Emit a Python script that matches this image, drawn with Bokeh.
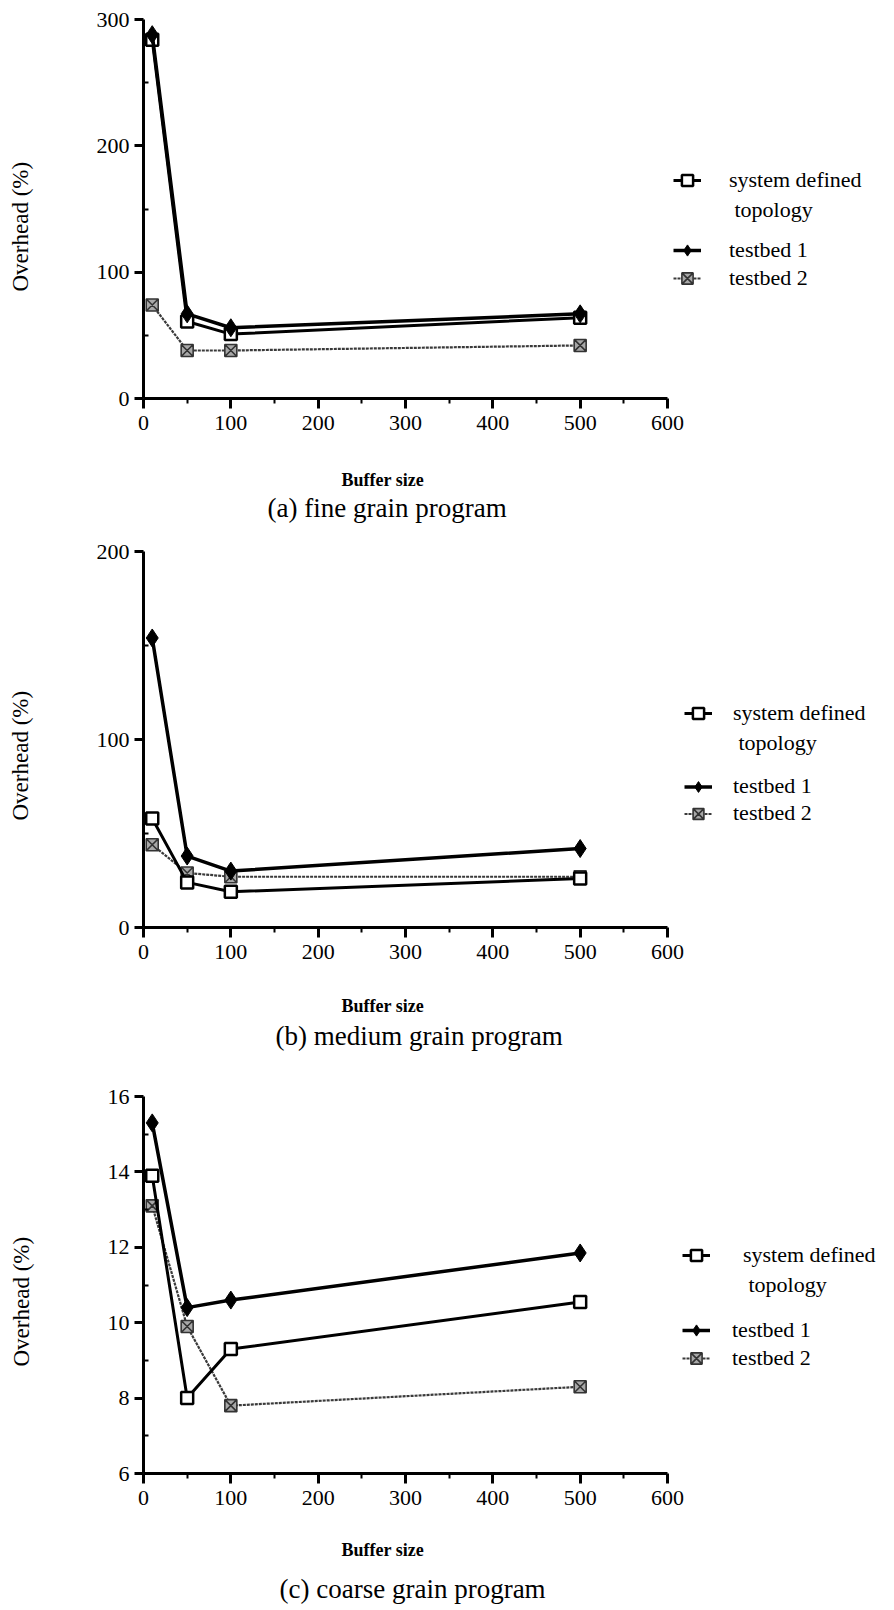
from bokeh.plotting import figure
from bokeh.models import Range1d, FixedTicker, Legend, LegendItem, LinearAxis, Title
from bokeh.layouts import column
from bokeh.embed import file_html
from bokeh.resources import INLINE

# ---------------- data ----------------
buffer_sizes = [10, 50, 100, 500]

fine_system = [284, 61, 51, 64]
fine_tb1 = [288, 67, 56, 67]
fine_tb2 = [74, 38, 38, 42]

medium_system = [58, 24, 19, 26]
medium_tb1 = [154, 38, 30, 42]
medium_tb2 = [44, 29, 27, 27]

coarse_system = [13.9, 8.0, 9.3, 10.55]
coarse_tb1 = [15.3, 10.4, 10.6, 11.85]
coarse_tb2 = [13.1, 9.9, 7.8, 8.3]

x_ticks = [0, 100, 200, 300, 400, 500, 600]
x_minor = [50, 150, 250, 350, 450, 550]

fine_yticks = [0, 100, 200, 300]
fine_yminor = [50, 150, 250]
medium_yticks = [0, 100, 200]
medium_yminor = [50, 150]
coarse_yticks = [6, 8, 10, 12, 14, 16]
coarse_yminor = [7, 9, 11, 13, 15]

captions = ["(a) fine grain program", "(b) medium grain program", "(c) coarse grain program"]
x_title = "Buffer size"
y_title = "Overhead (%)"
series_names = ["system defined", " topology", "testbed 1", "testbed 2"]

FONT = "Liberation Serif"
FRAME_L = 143          # page x of the y axis
PX_PER_600 = 524.0     # pixels spanned by 0..600 on the x axis
FRAME_W = 737


def spacer_axis(p, side, size, at):
    # an empty axis used only to reserve space between the axis and its titles
    ax = LinearAxis(ticker=FixedTicker(ticks=[at]), major_label_overrides={at: ""})
    ax.axis_line_color = None
    ax.major_tick_out = size
    ax.major_tick_in = 0
    ax.minor_tick_out = 0
    ax.minor_tick_in = 0
    ax.major_tick_line_color = "white"
    ax.major_tick_line_width = 1
    ax.major_label_standoff = 0
    ax.major_label_text_font_size = "1px"
    p.add_layout(ax, side)


def make_panel(system, tb1, tb2, yticks, yminor, caption, lay):
    y0, y1 = yticks[0], yticks[-1]
    x_end = 600.0 * FRAME_W / PX_PER_600
    fb = lay["frame_bottom"]
    p = figure(frame_width=FRAME_W, frame_height=lay["fh"],
               min_border_left=FRAME_L, min_border_right=0,
               min_border_top=lay["top"], min_border_bottom=lay["bottom"],
               x_range=Range1d(0, x_end), y_range=Range1d(y0, y1),
               output_backend="svg", toolbar_location=None, title=None)
    p.outline_line_color = None
    p.xgrid.visible = False
    p.ygrid.visible = False
    p.background_fill_color = "white"
    p.border_fill_color = "white"

    xa = p.xaxis[0]
    xa.ticker = FixedTicker(ticks=x_ticks, minor_ticks=x_minor)
    xa.bounds = (0, 600)
    ya = p.yaxis[0]
    ya.ticker = FixedTicker(ticks=yticks, minor_ticks=yminor)
    for ax in (xa, ya):
        ax.axis_line_width = 3
        ax.axis_line_color = "black"
        ax.major_tick_line_width = 3
        ax.minor_tick_line_width = 2
        ax.major_label_text_font = FONT
        ax.major_label_text_font_size = "22px"
        ax.major_label_text_color = "black"
    xa.major_tick_out = 10
    xa.major_tick_in = 0
    xa.minor_tick_out = 5
    xa.minor_tick_in = 0
    xa.major_label_standoff = 7
    ya.major_tick_out = 9
    ya.major_tick_in = 0
    ya.minor_tick_out = 0
    ya.minor_tick_in = 5
    ya.major_label_standoff = 5

    # x title and caption below the axis
    spacer_axis(p, "below", lay["xsp"], 700)
    p.add_layout(Title(text=x_title, align="left", offset=198, vertical_align="middle",
                       standoff=lay["bs"], text_font=FONT, text_font_size="18px",
                       text_font_style="bold", text_color="black"), "below")
    p.add_layout(Title(text=caption, align="left", offset=lay["coff"], vertical_align="middle",
                       standoff=lay["cs"], text_font=FONT, text_font_size="27px",
                       text_font_style="normal", text_color="black"), "below")
    # y title on the left
    spacer_axis(p, "left", lay["ysp"], y0)
    p.add_layout(Title(text=y_title, align="left", offset=107, vertical_align="middle",
                       standoff=0, text_font=FONT, text_font_size="23px",
                       text_font_style="normal", text_color="black"), "left")

    # series
    r_tb2_l = p.line(buffer_sizes, tb2, line_color="#3a3a3a", line_width=2.2, line_dash="3 1")
    r_tb2_m = p.scatter(buffer_sizes, tb2, marker="square_x", size=12,
                        line_color="#333333", fill_color="#a8a8a8", line_width=1.6)
    r_sys_l = p.line(buffer_sizes, system, line_color="black", line_width=3)
    r_sys_m = p.scatter(buffer_sizes, system, marker="square", size=12,
                        line_color="black", fill_color="white", line_width=2.5)
    r_tb1_l = p.line(buffer_sizes, tb1, line_color="black", line_width=3.5)
    r_tb1_m = p.scatter(buffer_sizes, tb1, marker="diamond", size=18,
                        line_color="black", fill_color="black")
    blank = p.scatter(x=[], y=[], size=1, alpha=0)

    h1 = lay["h1"]
    h2 = lay["h2"]
    common = dict(orientation="vertical", spacing=0, padding=0, margin=0, glyph_width=28,
                  label_text_font=FONT, label_text_font_size="22px",
                  label_text_color="black", label_text_baseline="middle",
                  border_line_alpha=0, background_fill_alpha=0)
    leg1 = Legend(items=[LegendItem(label=series_names[0], renderers=[r_sys_l, r_sys_m]),
                         LegendItem(label=series_names[1], renderers=[blank])],
                  location=(lay["gx"] - FRAME_L, fb - (lay["r1"] + 1.5 * h1)),
                  glyph_height=h1, label_height=h1, label_standoff=lay["st1"], **common)
    leg2 = Legend(items=[LegendItem(label=series_names[2], renderers=[r_tb1_l, r_tb1_m]),
                         LegendItem(label=series_names[3], renderers=[r_tb2_l, r_tb2_m])],
                  location=(lay["gx"] - FRAME_L, fb - (lay["r2"] + 1.5 * h2)),
                  glyph_height=h2, label_height=h2, label_standoff=lay["st2"], **common)
    p.add_layout(leg1)
    p.add_layout(leg2)
    return p


lay_a = dict(fh=379, top=19, bottom=130, frame_bottom=398,
             gx=673, r1=180, h1=30, r2=250, h2=28, st1=28, st2=28,
             xsp=36, bs=0, coff=124, cs=2, ysp=60)
lay_b = dict(fh=376, top=23, bottom=133, frame_bottom=927,
             gx=684, r1=713, h1=30, r2=786, h2=27, st1=21, st2=21,
             xsp=33, bs=0, coff=132, cs=7, ysp=60)
lay_c = dict(fh=377, top=36, bottom=135, frame_bottom=1473,
             gx=682, r1=1255, h1=30, r2=1330, h2=28, st1=33, st2=22,
             xsp=22, bs=18, coff=136, cs=6, ysp=70)

pa = make_panel(fine_system, fine_tb1, fine_tb2, fine_yticks, fine_yminor, captions[0], lay_a)
pb = make_panel(medium_system, medium_tb1, medium_tb2, medium_yticks, medium_yminor, captions[1], lay_b)
pc = make_panel(coarse_system, coarse_tb1, coarse_tb2, coarse_yticks, coarse_yminor, captions[2], lay_c)

layout = column(pa, pb, pc, spacing=0)
open("out.html", "w").write(file_html(layout, INLINE))
